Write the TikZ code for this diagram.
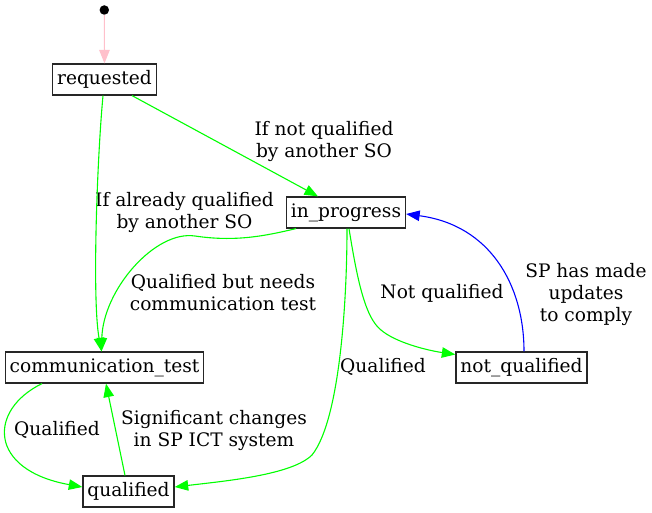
\documentclass[tikz,border=0pt]{standalone}
\usepackage{fontspec}
\setmainfont{DejaVu Serif}
\usetikzlibrary{arrows.meta}
\definecolor{egreen}{HTML}{00FF00}
\definecolor{eblue}{HTML}{0000FF}
\definecolor{epink}{HTML}{FFC0CB}
\tikzset{
  state/.style={draw=black!85, line width=1.2pt, inner xsep=4.5pt, inner ysep=0pt,
    minimum height=31pt, font=\fontsize{18.6pt}{22pt}\selectfont},
  lbl/.style={align=center, inner sep=0pt, font=\fontsize{18.6pt}{22pt}\selectfont},
  tip/.style={-{Triangle[length=13.5pt,width=10.5pt]}},
  gedge/.style={tip, draw=egreen, fill=none, line width=1.1pt},
  bedge/.style={tip, draw=eblue, line width=1.1pt},
  pedge/.style={tip, draw=epink, line width=1.1pt}
}
\begin{document}
\begin{tikzpicture}[x=1pt,y=-1pt]
\useasboundingbox (0,0) rectangle (652,513);
% nodes
\node[circle, fill=black, inner sep=0pt, minimum size=9.5pt] (start) at (104.3,10) {};
\node[state] (req) at (104.5,79.5) {requested};
\node[state] (ip) at (346,212.5) {in\_progress};
\node[state] (ct) at (104.5,367.5) {communication\_test};
\node[state] (nq) at (521.5,367.5) {not\_qualified};
\node[state] (qu) at (128.5,491.5) {qualified};
% labels
\node[lbl] (l1) at (324,142) {If not qualified\\by another SO};
\node[lbl] (l2) at (184.5,212) {If already qualified\\by another SO};
\node[lbl] (l3) at (223,293) {Qualified but needs\\communication test};
\node[lbl] (l4) at (442,293) {Not qualified};
\node[lbl] (l5) at (586,294) {SP has made\\updates\\to comply};
\node[lbl] (l6) at (383,367) {Qualified};
\node[lbl] (l7) at (57,430) {Qualified};
\node[lbl] (l8) at (214,430) {Significant changes\\in SP ICT system};
% edges
\draw[pedge] (start) -- (req.north);
\draw[gedge] ([xshift=27.5pt]req.south) -- ([xshift=-28pt]ip.north);
\draw[gedge] ([xshift=-1.5pt]req.south) .. controls (97,160) and (92,300) .. ([xshift=-3pt]ct.north);
\draw[gedge] ([xshift=-50pt]ip.south) .. controls (265,236) and (235,242) .. (195,236)
  .. controls (155,230) and (103,290) .. ([xshift=-3pt]ct.north);
\draw[gedge] ([xshift=3pt]ip.south) .. controls (358,285) and (366,318) .. (381,330)
  .. controls (395,342) and (425,350) .. ([yshift=13pt]nq.west);
\draw[gedge] ([xshift=1pt]ip.south) .. controls (347,300) and (340,420) .. (312,455)
  .. controls (292,475) and (225,481) .. ([yshift=4.5pt]qu.east);
\draw[bedge] ([xshift=2.5pt]nq.north) .. controls (524,285) and (490,225) .. ([yshift=-1.5pt]ip.east);
\draw[gedge] ([xshift=-62.5pt]ct.south) .. controls (-12,410) and (-12,470) .. ([yshift=4.5pt]qu.west);
\draw[gedge] ([xshift=-3.5pt]qu.north) -- ([xshift=1.5pt]ct.south);
\end{tikzpicture}
\end{document}
